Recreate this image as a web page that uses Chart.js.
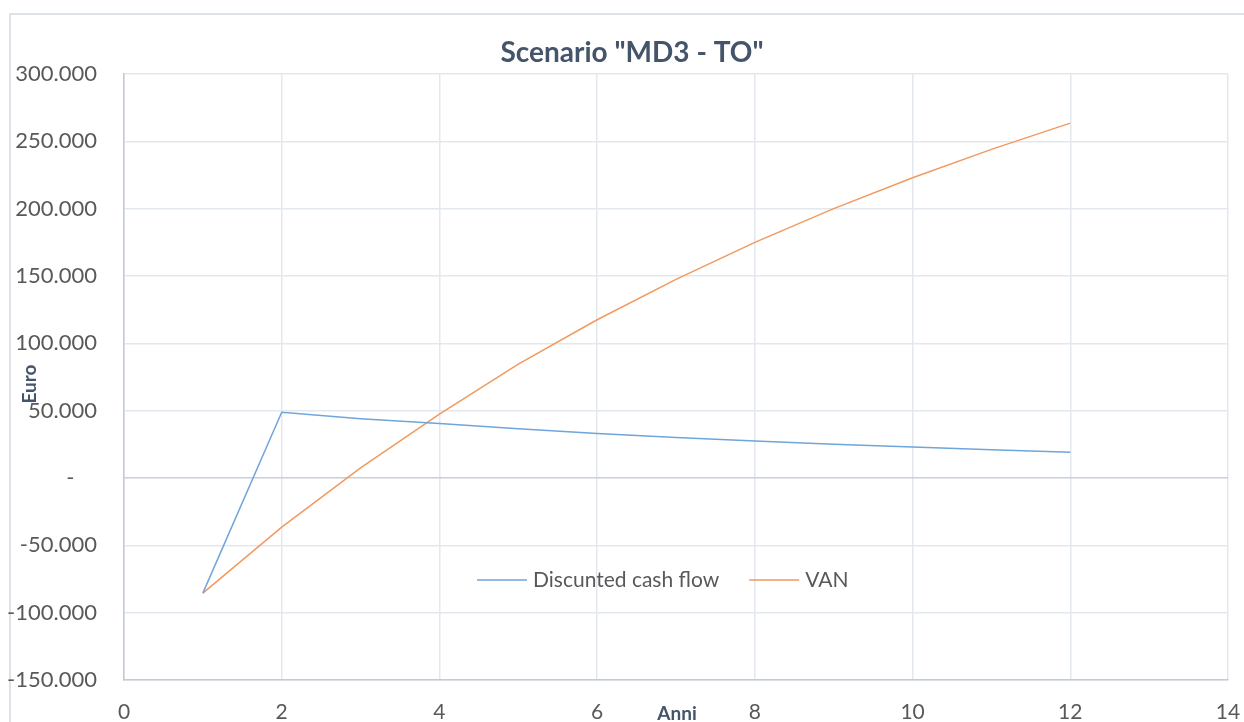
<!DOCTYPE html>
<html>
<head>
<meta charset="utf-8">
<script src="https://cdn.jsdelivr.net/npm/chart.js@4/dist/chart.umd.min.js"></script>
<style>
    html, body { margin: 0; padding: 0; background: #fff; }
    #wrap { width: 1244px; height: 722px; position: relative; }
</style>
</head>
<body>
<div id="wrap"><canvas id="chartContext"></canvas></div>
<script>
// Years (Anni)
const years = [1, 2, 3, 4, 5, 6, 7, 8, 9, 10, 11, 12];
// Discounted cash flow per year (Euro)
const cashFlow = [-85500, 48800, 44000, 40500, 36500, 33000, 30000, 27500, 25000, 23000, 21000, 19200];
// VAN, cumulative (Euro)
const van = [-85500, -36500, 7500, 47500, 84500, 117500, 147500, 175000, 200000, 223000, 244000, 263500];

const seriesLabels = ["Discunted cash flow", "VAN"];
const seriesColors = ["#6FA5DB", "#F2995F"];
const chartTitle = 'Scenario "MD3 - TO"';

const textColor = "#595959";
const titleColor = "#44546A";
const fontFamily = "Lato, 'Open Sans', sans-serif";

// Format numbers the Excel-italian way: 50.000, zero shown as "-"
function formatEuro(v) {
    if (v === 0) return "-    ";
    const s = String(Math.abs(v)).replace(/\B(?=(\d{3})+(?!\d))/g, ".");
    return (v < 0 ? "-" : "") + s;
}

// Outer frame of the Excel chart object
const framePlugin = {
    id: "frame",
    beforeDraw(chart) {
        const ctx = chart.ctx;
        ctx.save();
        ctx.strokeStyle = "#DDE1E8";
        ctx.lineWidth = 2;
        ctx.strokeRect(10, 14, 1300, 800);
        ctx.restore();
    }
};

// Title, axis titles and the in-plot legend, placed like in the Excel original
const extrasPlugin = {
    id: "extras",
    afterDraw(chart) {
        const ctx = chart.ctx;
        const area = chart.chartArea;
        ctx.save();
        ctx.textAlign = "center";
        ctx.textBaseline = "middle";

        // chart title
        ctx.fillStyle = titleColor;
        ctx.font = "bold 28px " + fontFamily;
        ctx.fillText(chartTitle, area.left + 508, area.top - 21);

        // axis titles
        ctx.font = "bold 19px " + fontFamily;
        ctx.fillText("Anni", area.left + 553, area.bottom + 34);

        ctx.translate(30, area.top + 310);
        ctx.rotate(-Math.PI / 2);
        ctx.fillText("Euro", 0, 0);
        ctx.setTransform(1, 0, 0, 1, 0, 0);

        // legend
        ctx.font = "21px " + fontFamily;
        ctx.textAlign = "left";
        let x = area.left + 353;
        const y = area.bottom - 100;
        chart.data.datasets.forEach((ds) => {
            ctx.strokeStyle = ds.borderColor;
            ctx.lineWidth = 1.5;
            ctx.beginPath();
            ctx.moveTo(x, y);
            ctx.lineTo(x + 50, y);
            ctx.stroke();
            ctx.fillStyle = textColor;
            ctx.fillText(ds.label, x + 56, y);
            x += 56 + ctx.measureText(ds.label).width + 30;
        });
        ctx.restore();
    }
};

const datasets = [cashFlow, van].map((vals, i) => ({
    label: seriesLabels[i],
    data: years.map((yr, j) => ({ x: yr, y: vals[j] })),
    borderColor: seriesColors[i],
    backgroundColor: seriesColors[i],
    borderWidth: 1.5,
    pointRadius: 0,
    tension: 0,
    fill: false,
}));

new Chart(document.getElementById("chartContext"), {
    type: "line",
    data: { datasets: datasets },
    plugins: [framePlugin, extrasPlugin],
    options: {
        responsive: true,
        maintainAspectRatio: false,
        animation: false,
        layout: { padding: { left: 0, right: 0, top: 74, bottom: 0 } },
        plugins: {
            legend: { display: false },
            tooltip: { enabled: false },
            title: { display: false },
        },
        scales: {
            x: {
                type: "linear",
                min: 0,
                max: 14,
                ticks: {
                    stepSize: 2,
                    padding: 20,
                    color: textColor,
                    font: { family: fontFamily, size: 21 },
                },
                grid: { color: "#E3E7EE", drawTicks: false, lineWidth: 1.5 },
                border: { color: "#C3CAD6", width: 1.5 },
                afterFit(scale) {
                    scale.height = 42;
                    scale.paddingLeft = 0;
                    scale.paddingRight = 16;
                },
            },
            y: {
                min: -150000,
                max: 300000,
                ticks: {
                    stepSize: 50000,
                    padding: 27,
                    color: textColor,
                    font: { family: fontFamily, size: 22 },
                    callback: (v) => formatEuro(v),
                },
                grid: {
                    drawTicks: false,
                    lineWidth: 1.5,
                    color: (c) => (c.tick && c.tick.value === 0 ? "#C8CEDA" : "#E3E7EE"),
                },
                border: { color: "#C3CAD6", width: 1.5 },
                afterFit(scale) {
                    scale.width = 124;
                    scale.paddingTop = 0;
                    scale.paddingBottom = 0;
                },
            },
        },
    },
});
</script>
</body>
</html>
